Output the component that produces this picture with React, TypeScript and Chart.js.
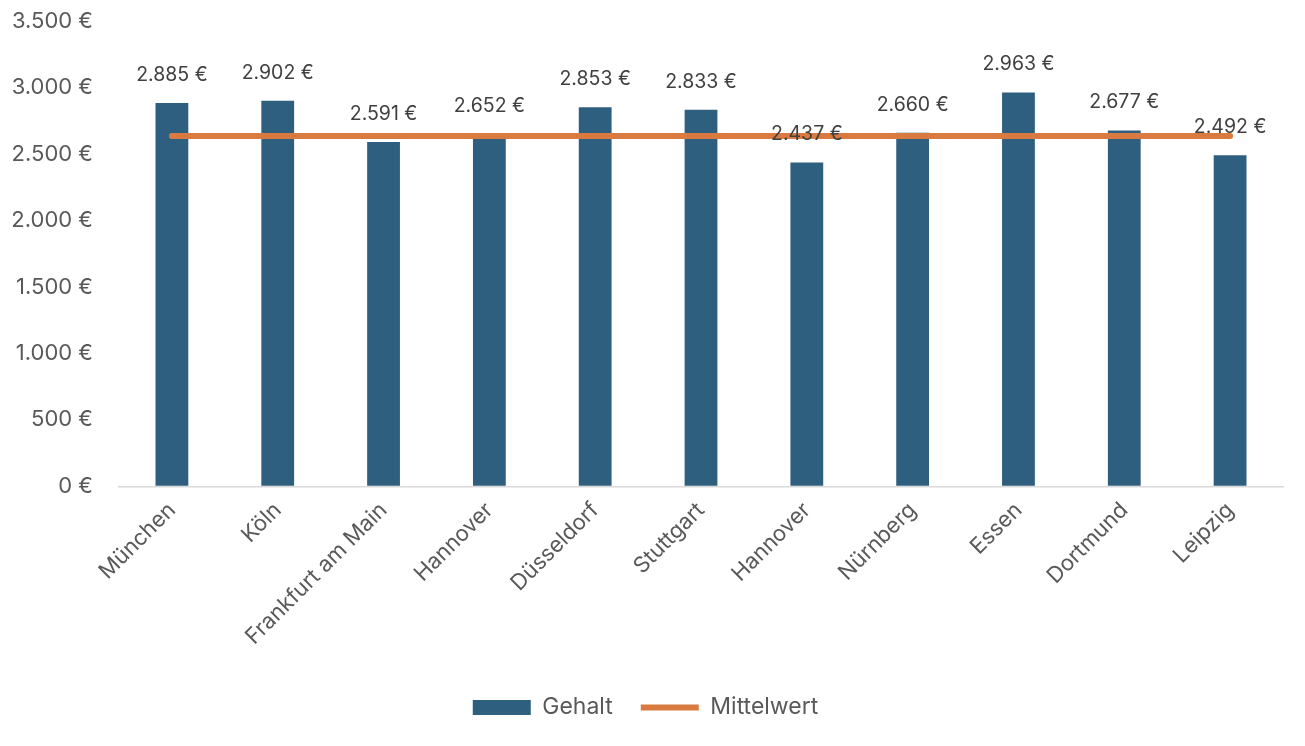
import React, { useEffect, useRef } from "react";
import { Chart, registerables } from "chart.js";

Chart.register(...registerables);

const categories = ["München", "Köln", "Frankfurt am Main", "Hannover", "Düsseldorf", "Stuttgart", "Hannover", "Nürnberg", "Essen", "Dortmund", "Leipzig"];
const gehalt = [2885, 2902, 2591, 2652, 2853, 2833, 2437, 2660, 2963, 2677, 2492];
const mittelwert = [2637, 2637, 2637, 2637, 2637, 2637, 2637, 2637, 2637, 2637, 2637];

const FONT = "Inter, 'Open Sans', sans-serif";

function fmt(v: number): string {
  const s = Math.round(v).toString();
  const withSep = s.replace(/\B(?=(\d{3})+(?!\d))/g, ".");
  return withSep + " €";
}

const dataLabels = {
  id: "dataLabels",
  afterDatasetsDraw(chart: any) {
    const ctx = chart.ctx;
    const meta = chart.getDatasetMeta(0);
    ctx.save();
    ctx.font = `19.5px ${FONT}`;
    ctx.fillStyle = "#404040";
    ctx.textAlign = "center";
    ctx.textBaseline = "middle";
    meta.data.forEach((el: any, i: number) => {
      ctx.fillText(fmt(gehalt[i]), el.x, el.y - 28);
    });
    ctx.restore();
  },
};

export default function App() {
  const ref = useRef<HTMLCanvasElement>(null);
  useEffect(() => {
    if (!ref.current) return;
    const chart = new Chart(ref.current, {
      type: "bar",
      data: {
        labels: categories,
        datasets: [
          {
            type: "bar",
            label: "Gehalt",
            data: gehalt,
            backgroundColor: "#2E5F7E",
            borderWidth: 0,
            barPercentage: 0.62,
            categoryPercentage: 0.5,
            order: 1,
            pointStyle: "rect",
          } as any,
          {
            type: "line",
            label: "Mittelwert",
            data: mittelwert,
            borderColor: "#D97A40",
            backgroundColor: "#D97A40",
            borderWidth: 6,
            borderCapStyle: "round",
            pointRadius: 0,
            pointHoverRadius: 0,
            order: 0,
            pointStyle: "line",
          } as any,
        ],
      },
      options: {
        animation: false,
        responsive: true,
        maintainAspectRatio: false,
        layout: { padding: { top: 0, right: 14, left: 0, bottom: 9 } },
        plugins: {
          tooltip: { enabled: false },
          legend: {
            position: "bottom",
            labels: {
              usePointStyle: true,
              pointStyleWidth: 58,
              boxHeight: 15,
              padding: 28,
              color: "#595959",
              font: { family: FONT, size: 23 },
              sort: (a: any, b: any) => a.datasetIndex - b.datasetIndex,
            },
          },
        },
        scales: {
          x: {
            grid: { display: false, drawTicks: false },
            border: { display: true, color: "#D9D9D9", width: 1.5 },
            ticks: {
              color: "#595959",
              font: { family: FONT, size: 22 },
              minRotation: 45,
              maxRotation: 45,
              padding: 11,
              autoSkip: false,
            },
            afterFit: (s: any) => {
              s.height += 7;
            },
          },
          y: {
            min: 0,
            max: 3500,
            grid: {
              display: true,
              drawOnChartArea: false,
              drawTicks: true,
              tickLength: 26,
              color: "rgba(0,0,0,0)",
            },
            border: { display: false },
            ticks: {
              stepSize: 500,
              color: "#595959",
              font: { family: FONT, size: 22 },
              padding: 0,
              callback: (v: any) => fmt(Number(v)),
            },
            afterFit: (s: any) => {
              s.width = 111;
            },
          },
        },
      },
      plugins: [dataLabels],
    });
    return () => chart.destroy();
  }, []);
  return (
    <div style={{ width: "100%", height: 730, position: "relative" }}>
      <canvas ref={ref} />
    </div>
  );
}
